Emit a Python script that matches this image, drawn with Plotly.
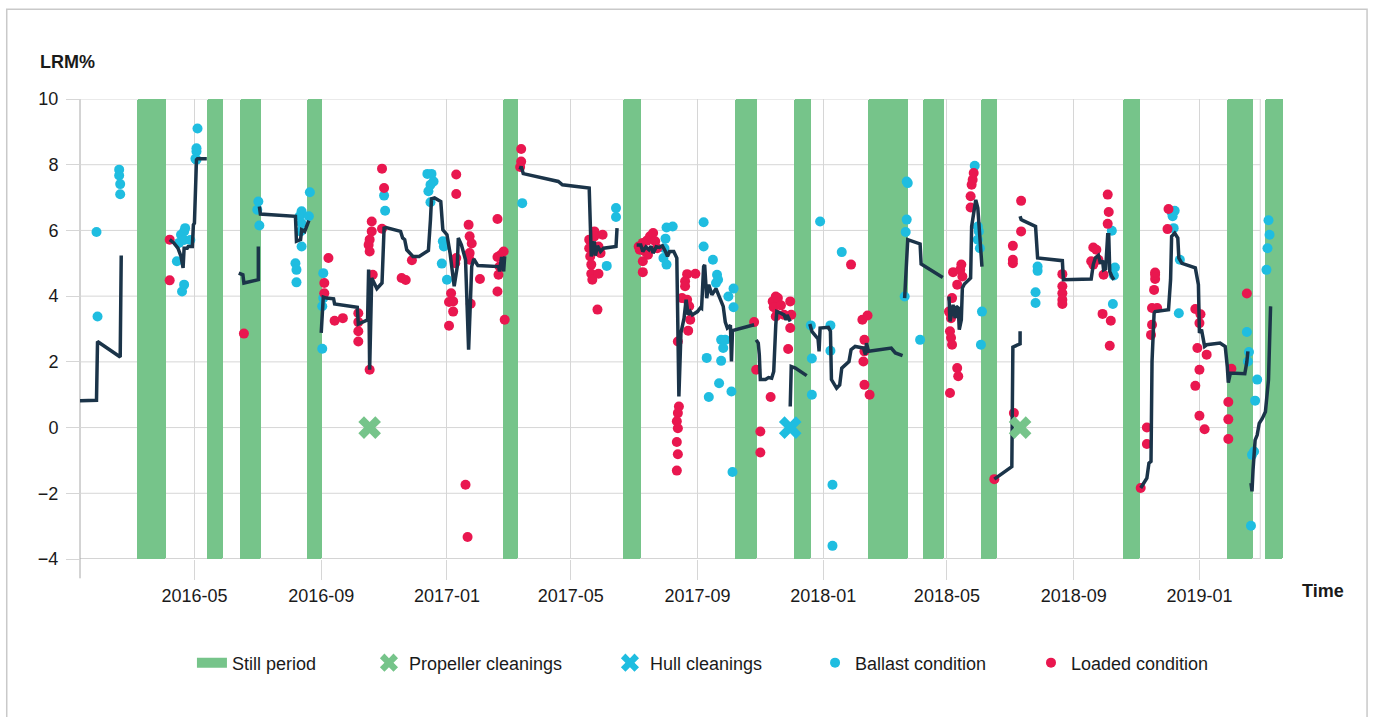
import pandas as pd
import plotly.graph_objects as go

# ---------------------------------------------------------------- data
still_start = ["2016-03-06", "2016-05-13", "2016-06-14", "2016-08-18", "2017-02-24",
               "2017-06-21", "2017-10-07", "2017-12-04", "2018-02-13", "2018-04-08",
               "2018-06-03", "2018-10-19", "2019-01-28", "2019-03-06"]
still_end = ["2016-04-03", "2016-05-29", "2016-07-05", "2016-09-02", "2017-03-11",
             "2017-07-08", "2017-10-29", "2017-12-20", "2018-03-24", "2018-04-28",
             "2018-06-19", "2018-11-04", "2019-02-22", "2019-03-23"]

propeller_dates = ["2016-10-18", "2018-07-11"]
propeller_lrm = [0, 0]
hull_dates = ["2017-11-30"]
hull_lrm = [0]

# LRM% trend; None separates the stretches of the trend line
trend_dates = [
    "2016-01-11", "2016-01-27", "2016-01-28", "2016-02-19", "2016-02-20", None,
    "2016-04-07", "2016-04-11", "2016-04-15", "2016-04-18", "2016-04-20", "2016-04-21",
    "2016-04-24", "2016-04-25", "2016-04-29", "2016-04-30", "2016-05-01", "2016-05-03",
    "2016-05-04", "2016-05-13", None,
    "2016-06-13", "2016-06-17", "2016-06-18", "2016-07-02", "2016-07-02", None,
    "2016-07-03", "2016-07-04", "2016-08-07", "2016-08-08", "2016-08-12", "2016-08-13",
    "2016-08-16", "2016-08-17", "2016-08-20", None,
    "2016-09-01", "2016-09-03", "2016-09-06", "2016-09-13", "2016-09-14", "2016-10-06",
    "2016-10-07", "2016-10-12", "2016-10-16", "2016-10-17", "2016-10-18", "2016-10-20",
    "2016-10-25", "2016-10-30", "2016-11-01", "2016-11-03", "2016-11-17", "2016-11-19",
    "2016-11-21", "2016-11-23", "2016-11-29", "2016-12-05", "2016-12-14", "2016-12-16",
    "2016-12-17", "2016-12-20", "2016-12-26", "2016-12-28", "2017-01-01", "2017-01-04",
    "2017-01-08", "2017-01-11", "2017-01-12", "2017-01-15", "2017-01-17", "2017-01-19",
    "2017-01-22", "2017-01-25", "2017-01-27", "2017-01-31", "2017-02-20", "2017-02-21",
    "2017-02-23", "2017-02-25", "2017-02-26", None,
    "2017-03-13", "2017-03-14", "2017-03-16", "2017-04-19", "2017-04-23", "2017-05-19",
    "2017-05-21", "2017-05-24", "2017-05-25", "2017-05-27", "2017-05-30", "2017-06-02",
    "2017-06-14", "2017-06-15", None,
    "2017-07-04", "2017-07-08", "2017-07-10", "2017-07-13", "2017-07-16", "2017-07-18",
    "2017-07-20", "2017-07-23", "2017-07-26", "2017-07-29", "2017-08-01", "2017-08-03",
    "2017-08-05", "2017-08-09", "2017-08-12", "2017-08-13", "2017-08-14", "2017-08-16",
    "2017-08-19", "2017-08-21", "2017-08-23", "2017-08-25", "2017-08-27", "2017-09-01",
    "2017-09-04", "2017-09-05", "2017-09-07", "2017-09-08", "2017-09-10", "2017-09-12",
    "2017-09-15", "2017-09-19", "2017-09-23", "2017-09-26", "2017-09-28", "2017-09-30",
    "2017-10-03", "2017-10-04", "2017-10-05", "2017-10-09", "2017-10-16", "2017-10-26", None,
    "2017-10-28", "2017-10-30", "2017-10-31", "2017-11-01", "2017-11-06", "2017-11-09",
    "2017-11-12", "2017-11-14", "2017-11-16", "2017-11-17", "2017-11-21", "2017-11-24",
    "2017-11-26", "2017-11-27", "2017-11-30", None,
    "2017-11-30", "2017-12-01", "2017-12-05", "2017-12-15", "2017-12-16", None,
    "2017-12-19", "2017-12-21", "2017-12-27", "2017-12-28", "2017-12-29", "2018-01-06",
    "2018-01-08", "2018-01-09", "2018-01-14", "2018-01-17", "2018-01-19", "2018-01-26",
    "2018-01-28", "2018-02-01", "2018-02-09", "2018-02-11", "2018-02-12", "2018-02-14",
    "2018-03-08", "2018-03-12", "2018-03-19", None,
    "2018-03-21", "2018-03-24", "2018-04-05", "2018-04-06", "2018-04-27", None,
    "2018-05-03", "2018-05-04", "2018-05-06", "2018-05-07", "2018-05-09", "2018-05-10",
    "2018-05-12", "2018-05-13", "2018-05-15", "2018-05-16", "2018-05-18", "2018-05-24",
    "2018-05-25", "2018-05-29", "2018-05-31", "2018-06-01", "2018-06-02", "2018-06-04", None,
    "2018-06-16", "2018-07-03", "2018-07-04", "2018-07-08", "2018-07-11", "2018-07-11", None,
    "2018-07-11", "2018-07-12", "2018-07-14", "2018-07-26", "2018-07-28", "2018-08-21",
    "2018-08-22", "2018-09-18", "2018-09-20", "2018-09-22", "2018-09-25", "2018-09-27",
    "2018-09-29", "2018-09-30", "2018-10-02", "2018-10-04", "2018-10-05", "2018-10-06",
    "2018-10-08", "2018-10-10", None,
    "2018-11-05", "2018-11-11", "2018-11-13", "2018-11-15", "2018-11-16", "2018-11-18",
    "2018-11-19", "2018-12-02", "2018-12-04", "2018-12-05", "2018-12-08", "2018-12-11",
    "2018-12-12", "2018-12-15", "2018-12-28", "2018-12-31", "2019-01-01", "2019-01-03",
    "2019-01-06", "2019-01-08", "2019-01-21", "2019-01-26", "2019-01-28", "2019-01-29",
    "2019-01-31", "2019-02-14", "2019-02-16", "2019-02-17", None,
    "2019-02-20", "2019-02-21", "2019-02-22", "2019-02-24", "2019-02-26", "2019-02-28",
    "2019-03-03", "2019-03-06", "2019-03-09", "2019-03-11",
]
trend_lrm = [
    0.82, 0.83, 2.62, 2.15, 5.24, None,
    5.72, 5.62, 5.46, 5.21, 4.86, 5.46,
    5.46, 5.51, 5.51, 6.17, 6.22, 8.15,
    8.18, 8.18, None,
    4.70, 4.65, 4.40, 4.50, 5.51, None,
    6.73, 6.50, 6.43, 5.67, 5.72, 6.02,
    5.97, 6.07, 6.30, None,
    2.88, 3.97, 3.94, 3.92, 3.76, 3.66,
    3.15, 3.23, 3.28, 4.81, 1.76, 4.55,
    4.23, 4.40, 6.07, 6.09, 5.97, 5.77,
    5.72, 5.41, 5.21, 5.21, 5.39, 6.33,
    6.96, 6.99, 6.88, 6.02, 5.87, 5.31,
    4.30, 4.90, 5.77, 5.56, 5.31, 5.11,
    2.37, 4.90, 5.13, 4.93, 4.90, 4.75,
    5.19, 4.75, 5.21, None,
    7.85, 7.95, 7.73, 7.49, 7.39, 7.29,
    5.21, 5.67, 5.23, 5.53, 5.36, 5.46,
    5.51, 6.07, None,
    5.56, 5.56, 5.36, 5.50, 5.41, 5.52,
    5.31, 5.50, 5.48, 5.53, 5.36, 5.21,
    5.36, 5.36, 5.16, 3.33, 0.95, 2.88,
    3.33, 3.89, 3.43, 3.53, 3.43, 3.53,
    3.65, 3.63, 4.90, 4.95, 3.94, 4.35,
    4.04, 4.23, 3.94, 3.69, 3.21, 3.03,
    3.11, 2.01, 2.95, 2.98, 3.05, 3.13, None,
    2.67, 2.57, 2.22, 1.46, 1.46, 1.52,
    1.50, 1.71, 3.13, 3.53, 3.48, 3.43,
    3.28, 3.43, 3.23, None,
    0.64, 1.86, 1.81, 1.61, 1.58, None,
    3.15, 2.93, 2.70, 2.32, 3.03, 3.05,
    2.93, 1.46, 1.20, 1.30, 1.81, 2.01,
    2.37, 2.47, 2.42, 2.22, 2.57, 2.32,
    2.42, 2.27, 2.19, None,
    3.94, 5.72, 5.59, 4.98, 4.57, None,
    3.99, 3.23, 3.53, 3.74, 3.33, 3.69,
    3.64, 2.98, 3.28, 4.25, 4.37, 4.55,
    6.12, 6.93, 6.68, 6.17, 5.56, 4.90, None,
    -1.57, -1.19, 2.45, 2.50, 2.55, 2.93, None,
    6.43, 6.33, 6.30, 6.12, 5.16, 5.08,
    4.50, 4.52, 4.96, 5.16, 5.24, 4.99,
    5.09, 4.80, 4.83, 5.87, 5.87, 4.75,
    4.60, 4.50, None,
    -1.84, -1.54, -1.08, -1.03, 2.01, 3.48,
    3.53, 3.59, 4.50, 5.82, 5.92, 5.77,
    5.16, 5.00, 4.86, 4.35, 2.88, 2.98,
    2.47, 2.52, 2.57, 2.47, 1.86, 1.37,
    1.66, 1.64, 2.00, 2.32, None,
    -1.69, -1.94, -1.28, -0.38, -0.23, 0.13,
    0.28, 0.48, 1.46, 3.69,
]

ballast_dates = [
    "2016-01-27", "2016-01-28", "2016-02-18", "2016-02-18", "2016-02-19", "2016-02-19",
    "2016-04-14", "2016-04-16", "2016-04-18", "2016-04-21", "2016-04-22", "2016-04-21",
    "2016-04-27", "2016-04-19", "2016-04-21", "2016-04-29", "2016-05-04", "2016-05-03",
    "2016-05-03", "2016-05-02", "2016-05-03",
    "2016-07-02", "2016-07-01", "2016-07-03", "2016-08-21", "2016-08-13", "2016-08-11",
    "2016-08-20", "2016-08-13", "2016-08-12", "2016-08-13", "2016-08-07", "2016-08-08",
    "2016-08-08",
    "2016-09-03", "2016-09-03", "2016-09-02", "2016-09-02", "2016-11-01", "2016-11-02",
    "2016-12-13", "2016-12-17", "2016-12-19", "2016-12-16", "2016-12-14", "2016-12-16",
    "2016-12-28", "2016-12-29", "2016-12-27", "2017-01-01",
    "2017-03-15", "2017-06-05", "2017-06-14", "2017-06-14",
    "2017-08-02", "2017-08-08", "2017-08-01", "2017-07-31", "2017-07-30", "2017-08-02",
    "2017-09-07", "2017-09-07", "2017-09-16", "2017-09-20", "2017-09-21", "2017-09-19",
    "2017-10-01", "2017-10-06", "2017-10-06", "2017-09-24", "2017-09-26", "2017-09-28",
    "2017-09-10", "2017-09-24", "2017-09-22", "2017-10-04", "2017-09-12", "2017-10-05",
    "2017-12-20", "2017-12-21", "2017-12-21", "2017-12-29", "2018-01-08", "2018-01-08",
    "2018-01-10", "2018-01-10", "2018-01-19", "2018-03-23", "2018-03-24", "2018-03-23",
    "2018-03-22", "2018-03-21", "2018-04-05", "2018-05-28", "2018-05-31", "2018-06-01",
    "2018-05-31", "2018-06-02", "2018-06-04", "2018-06-03",
    "2018-07-28", "2018-07-28", "2018-07-26", "2018-07-26", "2018-10-08", "2018-10-11",
    "2018-10-10", "2018-10-09",
    "2018-12-05", "2018-12-08", "2018-12-06", "2018-12-07", "2018-12-13", "2018-12-12",
    "2019-02-16", "2019-02-18", "2019-02-17", "2019-02-26", "2019-02-24", "2019-02-23",
    "2019-02-21", "2019-02-20", "2019-03-09", "2019-03-10", "2019-03-08", "2019-03-07",
]
ballast_lrm = [
    5.95, 3.38, 7.85, 7.67, 7.41, 7.10,
    5.06, 5.62, 5.87, 5.97, 6.07, 5.71,
    5.71, 4.14, 4.35, 10.15, 9.10, 8.50,
    8.40, 8.18, 8.15,
    6.88, 6.63, 6.15, 7.16, 6.58, 6.43,
    6.43, 6.22, 5.97, 5.51, 5.00, 4.80,
    4.42,
    4.70, 3.94, 3.69, 2.40, 7.06, 6.60,
    7.72, 7.72, 7.49, 7.39, 7.19, 6.86,
    5.67, 5.51, 4.99, 4.50,
    6.83, 4.92, 6.68, 6.41,
    6.09, 6.12, 5.75, 5.46, 5.16, 4.96,
    6.25, 5.51, 5.11, 4.65, 4.50, 4.40,
    3.99, 4.23, 3.66, 2.67, 2.42, 2.67,
    2.12, 2.03, 1.35, 1.10, 0.93, -1.35,
    3.11, 2.10, 1.00, 6.27, 3.11, 2.34,
    -1.74, -3.60, 5.34, 7.49, 7.44, 6.33,
    5.95, 3.99, 2.67, 7.97, 6.12, 5.97,
    5.72, 5.46, 3.53, 2.52,
    4.90, 4.77, 4.12, 3.79, 5.99, 4.87,
    4.63, 3.76,
    6.55, 6.60, 6.43, 6.07, 5.11, 3.48,
    2.91, 2.30, 2.01, 1.46, 0.82, -0.73,
    -0.83, -2.99, 6.31, 5.87, 5.46, 4.80,
]

loaded_dates = [
    "2016-04-07", "2016-04-07", "2016-06-18",
    "2016-09-08", "2016-09-04", "2016-09-04", "2016-09-14", "2016-09-22", "2016-10-07",
    "2016-10-07", "2016-10-07", "2016-10-07", "2016-10-18", "2016-10-20", "2016-10-20",
    "2016-10-18", "2016-10-17", "2016-10-18", "2016-10-21", "2016-10-30", "2016-11-01",
    "2016-10-30", "2016-11-18", "2016-11-22", "2016-11-28",
    "2017-01-05", "2017-01-03", "2017-01-07", "2017-01-07", "2017-01-03", "2017-01-10",
    "2017-01-10", "2017-01-09", "2017-01-10", "2017-01-22", "2017-01-23", "2017-01-25",
    "2017-01-23", "2017-01-23", "2017-01-24", "2017-02-02", "2017-01-19", "2017-01-21",
    "2017-02-19", "2017-02-19", "2017-02-22", "2017-02-25", "2017-02-21", "2017-02-20",
    "2017-02-19", "2017-02-26",
    "2017-03-14", "2017-03-14", "2017-03-13", "2017-05-19", "2017-05-24", "2017-06-01",
    "2017-05-24", "2017-05-19", "2017-05-20", "2017-05-21", "2017-05-21", "2017-05-22",
    "2017-05-28", "2017-05-27", "2017-05-30", "2017-05-28",
    "2017-07-06", "2017-07-10", "2017-07-14", "2017-07-17", "2017-07-20", "2017-07-22",
    "2017-07-24", "2017-07-12", "2017-07-10", "2017-07-10", "2017-07-15", "2017-07-07",
    "2017-08-22", "2017-08-20", "2017-08-30", "2017-08-20", "2017-08-17", "2017-08-22",
    "2017-08-24", "2017-08-25", "2017-08-23", "2017-08-13", "2017-08-14", "2017-08-13",
    "2017-08-12", "2017-08-13", "2017-08-12", "2017-08-13", "2017-08-12",
    "2017-10-26", "2017-10-28", "2017-11-01", "2017-11-01", "2017-11-11", "2017-11-16",
    "2017-11-13", "2017-11-18", "2017-11-14", "2017-11-16", "2017-11-17", "2017-11-21",
    "2017-11-24", "2017-11-30", "2017-12-01", "2017-11-30", "2017-11-28",
    "2018-01-28", "2018-02-08", "2018-02-13", "2018-02-10", "2018-02-10", "2018-02-09",
    "2018-02-10", "2018-02-15",
    "2018-05-07", "2018-05-15", "2018-05-14", "2018-05-16", "2018-05-11", "2018-05-06",
    "2018-05-03", "2018-05-05", "2018-05-04", "2018-05-05", "2018-05-06", "2018-05-11",
    "2018-05-12", "2018-05-04", "2018-05-24", "2018-05-24", "2018-05-25", "2018-05-26",
    "2018-05-27", "2018-05-09", "2018-06-16",
    "2018-07-12", "2018-07-12", "2018-07-04", "2018-07-04", "2018-07-04", "2018-07-05",
    "2018-08-21", "2018-08-21", "2018-08-21", "2018-08-21", "2018-08-21", "2018-09-20",
    "2018-09-23", "2018-09-18", "2018-09-20", "2018-09-25", "2018-09-30", "2018-10-04",
    "2018-10-05", "2018-10-04", "2018-09-29", "2018-10-07", "2018-10-06",
    "2018-11-05", "2018-11-11", "2018-11-11", "2018-11-16", "2018-11-15", "2018-11-16",
    "2018-11-18", "2018-11-19", "2018-11-19", "2018-11-19", "2018-11-21", "2018-12-02",
    "2018-12-01", "2018-12-28", "2019-01-02", "2019-01-01", "2018-12-30", "2019-01-08",
    "2019-01-01", "2018-12-28", "2019-01-01", "2019-01-06", "2019-02-01", "2019-01-29",
    "2019-01-29", "2019-01-29", "2019-02-16",
]
loaded_lrm = [
    5.72, 4.48, 2.86,
    5.16, 4.40, 4.09, 3.25, 3.33, 3.48,
    3.21, 2.93, 2.62, 1.76, 6.27, 5.97,
    5.72, 5.56, 5.36, 4.65, 7.88, 7.29,
    6.05, 4.55, 4.49, 5.09,
    4.09, 3.82, 3.84, 3.53, 3.10, 7.70,
    7.11, 5.00, 5.16, 6.17, 5.82, 5.60,
    5.31, 5.11, 3.77, 4.52, -1.74, -3.33,
    6.35, 5.19, 5.25, 5.36, 4.90, 4.65,
    4.14, 3.28,
    8.48, 8.10, 7.93, 5.72, 5.97, 5.87,
    5.82, 5.46, 5.21, 4.96, 4.68, 4.50,
    4.68, 3.59, 5.31, 5.51,
    5.51, 5.62, 5.69, 5.82, 5.92, 5.67,
    5.46, 5.36, 5.06, 4.73, 5.26, 5.41,
    4.67, 4.45, 4.68, 4.30, 3.94, 3.89,
    3.69, 3.28, 2.95, 2.62, 0.64, 0.44,
    0.19, -0.02, -0.44, -0.81, -1.31,
    3.21, 1.76, -0.12, -0.76, 0.93, 3.99,
    3.84, 3.94, 3.66, 3.38, 3.43, 3.72,
    3.43, 3.84, 3.43, 3.03, 2.39,
    4.96, 3.28, 3.41, 2.67, 2.32, 2.01,
    1.30, 1.00,
    4.73, 4.96, 4.80, 4.60, 4.35, 3.94,
    3.53, 3.33, 2.93, 2.73, 2.52, 1.81,
    1.56, 1.05, 6.70, 7.04, 7.39, 7.54,
    7.75, 3.48, -1.57,
    6.90, 5.97, 5.53, 5.11, 5.00, 0.44,
    4.67, 4.30, 4.09, 3.89, 3.76, 5.48,
    5.41, 5.06, 4.96, 5.11, 4.65, 7.09,
    6.56, 6.20, 3.46, 3.25, 2.49,
    -1.84, 0.00, -0.50, 3.13, 2.82, 3.64,
    4.19, 4.52, 4.65, 4.72, 3.64, 6.65,
    6.04, 3.61, 3.45, 3.18, 2.42, 2.22,
    1.76, 1.27, 0.36, -0.05, 1.79, 0.78,
    0.25, -0.35, 4.08,
]

y_ticks = [10, 8, 6, 4, 2, 0, -4, -2]
y_min, y_max = -4, 10
x_start, x_grid_end, x_end = "2016-01-11", "2019-03-01", "2019-03-25"

# ---------------------------------------------------------------- style
GREEN = "#76C48A"
CYAN = "#1FBDE0"
RED = "#E9174F"
NAVY = "#1B3449"
GRID = "#d6d6d6"
AXIS = "#a8a8a8"
TEXT = "#1a1a1a"
FONT = "Liberation Sans, Arial, sans-serif"

starts = pd.to_datetime(pd.Series(still_start))
ends = pd.to_datetime(pd.Series(still_end))
mids = starts + (ends - starts) / 2
widths_ms = (ends - starts).dt.total_seconds() * 1000

fig = go.Figure()

# still periods as full-height columns
fig.add_trace(go.Bar(
    x=mids, y=[y_max - y_min] * len(mids), base=y_min, width=widths_ms,
    marker=dict(color=GREEN, line=dict(width=0), cornerradius=2),
    showlegend=False, hoverinfo="skip", cliponaxis=False,
))
# legend key for the still periods
fig.add_trace(go.Scatter(
    x=[None], y=[None], mode="lines", name="Still period",
    line=dict(color=GREEN, width=16), legend="legend",
))

fig.add_trace(go.Scatter(
    x=ballast_dates, y=ballast_lrm, mode="markers", name="Ballast condition",
    marker=dict(color=CYAN, size=10, line=dict(width=0)), legend="legend4",
))
fig.add_trace(go.Scatter(
    x=loaded_dates, y=loaded_lrm, mode="markers", name="Loaded condition",
    marker=dict(color=RED, size=10, line=dict(width=0)), legend="legend5",
))
fig.add_trace(go.Scatter(
    x=trend_dates, y=trend_lrm, mode="lines", showlegend=False,
    line=dict(color=NAVY, width=3.5), connectgaps=False,
))
fig.add_trace(go.Scatter(
    x=propeller_dates, y=propeller_lrm, mode="markers", name="Propeller cleanings",
    marker=dict(symbol="x", color=GREEN, size=20, line=dict(width=0)), legend="legend2",
))
fig.add_trace(go.Scatter(
    x=hull_dates, y=hull_lrm, mode="markers", name="Hull cleanings",
    marker=dict(symbol="x", color=CYAN, size=20, line=dict(width=0)), legend="legend3",
))

# horizontal grid, ending at the last data month
shapes = []
for v in y_ticks:
    shapes.append(dict(type="line", xref="x", yref="y", x0=x_start, x1=x_grid_end,
                       y0=v, y1=v, line=dict(color=AXIS if v == y_min else GRID, width=1),
                       layer="below"))
# right frame edge and left axis line
shapes.append(dict(type="line", xref="x", yref="y", x0=x_grid_end, x1=x_grid_end,
                   y0=y_min, y1=y_max, line=dict(color=GRID, width=1), layer="below"))
shapes.append(dict(type="line", xref="paper", yref="paper", x0=0, x1=0,
                   y0=-0.042, y1=1, line=dict(color=AXIS, width=1), layer="below"))
# outer card border
shapes.append(dict(type="rect", xref="paper", yref="paper", x0=-0.0608, x1=1.0681,
                   y0=-0.40, y1=1.195, line=dict(color="#c9c9c9", width=1.5),
                   fillcolor="rgba(0,0,0,0)", layer="below"))

legend_common = dict(orientation="h", xanchor="left", yanchor="middle", y=-0.226,
                     font=dict(family=FONT, size=18, color=TEXT),
                     bgcolor="rgba(0,0,0,0)", borderwidth=0)

fig.update_layout(
    width=1375, height=717,
    margin=dict(l=80, r=90, t=99, b=158),
    paper_bgcolor="white", plot_bgcolor="white",
    font=dict(family=FONT, size=18, color=TEXT),
    bargap=0,
    shapes=shapes,
    legend=dict(x=0.0929, **legend_common),
    legend2=dict(x=0.2398, **legend_common),
    legend3=dict(x=0.4398, **legend_common),
    legend4=dict(x=0.6100, **legend_common),
    legend5=dict(x=0.7892, **legend_common),
    xaxis=dict(
        type="date", range=[x_start, x_end],
        tick0="2016-01-01", dtick="M4", tickformat="%Y-%m",
        showgrid=True, gridcolor=GRID, gridwidth=1,
        ticks="outside", ticklen=20, tickcolor=GRID,
        showline=False, zeroline=False,
        tickfont=dict(family=FONT, size=18, color=TEXT),
    ),
    yaxis=dict(
        range=[y_min, y_max], tickvals=y_ticks,
        showgrid=False, zeroline=False, showline=False,
        ticks="outside", ticklen=13, tickcolor=GRID,
        ticklabelstandoff=4,
        tickfont=dict(family=FONT, size=18, color=TEXT),
    ),
    annotations=[
        dict(text="<b>LRM%</b>", xref="paper", yref="paper", x=-0.0349, y=1.0804,
             xanchor="left", yanchor="middle", showarrow=False,
             font=dict(family=FONT, size=18, color=TEXT)),
        dict(text="<b>Time</b>", xref="paper", yref="paper", x=1.0124, y=-0.0696,
             xanchor="left", yanchor="middle", showarrow=False,
             font=dict(family=FONT, size=18, color=TEXT)),
    ],
)

fig.write_html("out.html")
